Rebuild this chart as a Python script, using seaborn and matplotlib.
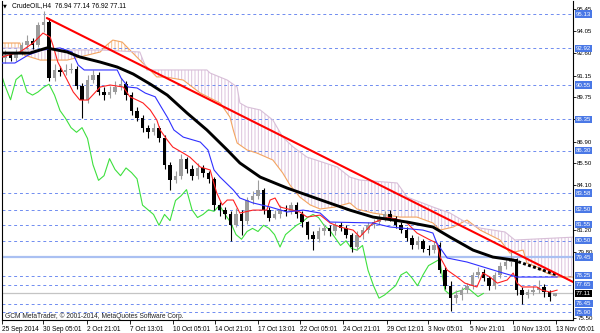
import numpy as np
import pandas as pd
import matplotlib
matplotlib.use("Agg")
import matplotlib.pyplot as plt
import matplotlib.transforms as mtransforms
import seaborn as sns

# ---------------- data (H4 candles, aggregated) ----------------
opens = [92.3, 92.5, 92.3, 92.7, 93.1, 93.4, 93.1, 94.4, 94.6, 91.0,
         91.5, 91.4, 91.5, 91.6, 90.5, 89.6, 90.9, 91.2, 90.1, 89.9,
         90.1, 90.4, 90.6, 89.9, 88.9, 88.4, 87.8, 87.5, 87.8, 87.1,
         85.4, 84.4, 84.7, 85.8, 85.1, 84.7, 85.2, 84.9, 84.5, 82.8,
         82.5, 82.2, 81.5, 82.2, 81.8, 83.1, 83.4, 83.8, 82.5, 82.0,
         82.2, 82.5, 82.4, 82.8, 82.2, 81.7, 80.9, 80.6, 81.1, 81.3,
         81.1, 81.5, 81.3, 80.9, 80.1, 80.9, 81.2, 81.5, 81.7, 82.0,
         82.2, 82.0, 81.5, 81.2, 80.7, 80.2, 80.5, 80.0, 79.9, 80.2,
         78.6, 77.6, 76.8, 77.0, 77.3, 77.6, 78.3, 78.5, 78.1, 77.6,
         78.3, 78.9, 79.1, 79.3, 77.3, 77.0, 77.2, 77.3, 77.5, 77.2,
         76.94]
highs = [92.8, 92.7, 92.9, 93.3, 93.8, 93.6, 94.6, 95.35, 94.9, 91.9,
         91.8, 91.9, 92.0, 91.8, 90.7, 91.2, 91.5, 91.4, 90.4, 90.5,
         90.8, 91.0, 90.8, 90.1, 89.1, 88.6, 88.0, 88.1, 87.9, 87.3,
         85.6, 85.0, 86.1, 85.9, 85.4, 85.5, 85.4, 85.0, 84.6, 83.0,
         82.7, 82.4, 82.6, 82.5, 83.3, 83.7, 84.4, 83.9, 82.7, 82.5,
         82.8, 82.8, 83.0, 83.0, 82.4, 81.8, 81.1, 81.4, 81.6, 81.5,
         81.7, 81.7, 81.5, 81.0, 81.1, 81.4, 81.7, 81.9, 82.2, 82.4,
         82.5, 82.1, 81.7, 81.4, 80.9, 80.8, 80.6, 80.2, 80.5, 80.4,
         78.8, 77.9, 77.3, 77.5, 77.8, 78.5, 78.8, 78.7, 78.2, 78.5,
         79.1, 79.3, 79.8, 79.4, 77.5, 77.4, 77.6, 78.0, 77.7, 77.3,
         77.14]
lows = [92.0, 92.1, 92.1, 92.5, 92.9, 92.9, 93.0, 94.0, 90.8, 90.8,
        91.1, 91.2, 91.3, 90.3, 88.4, 89.4, 90.7, 89.9, 89.6, 89.7,
        90.0, 90.2, 89.6, 88.6, 88.2, 87.5, 87.1, 87.3, 86.9, 85.1,
        83.8, 84.2, 84.5, 84.9, 84.4, 84.5, 84.6, 84.2, 82.5, 82.1,
        81.9, 80.5, 81.4, 80.9, 81.6, 82.9, 83.2, 82.2, 81.8, 81.9,
        82.0, 82.1, 82.2, 82.0, 81.4, 80.6, 79.9, 80.4, 80.9, 80.8,
        80.9, 81.1, 80.7, 79.8, 79.9, 80.6, 81.0, 81.3, 81.5, 81.8,
        81.8, 81.3, 81.0, 80.5, 80.0, 80.0, 79.8, 79.6, 79.7, 78.4,
        77.4, 75.95, 76.5, 76.7, 77.1, 77.4, 78.1, 77.9, 77.3, 77.4,
        78.1, 78.7, 78.9, 77.0, 76.45, 76.8, 77.0, 77.1, 76.9, 76.6,
        76.92]
closes = [92.5, 92.3, 92.7, 93.1, 93.4, 93.1, 94.4, 94.6, 91.0, 91.5,
          91.4, 91.5, 91.6, 90.5, 89.6, 90.9, 91.2, 90.1, 89.9, 90.1,
          90.4, 90.6, 89.9, 88.9, 88.4, 87.8, 87.5, 87.8, 87.1, 85.4,
          84.4, 84.7, 85.8, 85.1, 84.7, 85.2, 84.9, 84.5, 82.8, 82.5,
          82.2, 81.5, 82.2, 81.8, 83.1, 83.4, 83.8, 82.5, 82.0, 82.2,
          82.5, 82.4, 82.8, 82.2, 81.7, 80.9, 80.6, 81.1, 81.3, 81.1,
          81.5, 81.3, 80.9, 80.1, 80.9, 81.2, 81.5, 81.7, 82.0, 82.2,
          82.0, 81.5, 81.2, 80.7, 80.2, 80.5, 80.0, 79.9, 80.2, 78.6,
          77.6, 76.8, 77.0, 77.3, 77.6, 78.3, 78.5, 78.1, 77.6, 78.3,
          78.9, 79.1, 79.3, 77.3, 77.0, 77.2, 77.3, 77.5, 77.2, 76.9,
          77.11]

# moving average (black)
ma_idx = [-0.5, 4.5, 7.6, 11.3, 13.6, 17.3, 20.4, 23.3, 26.4, 29.5, 33.1, 36.7,
          40.4, 42.7, 46.4, 51.3, 54.9, 58.5, 62.7, 66.9, 73.1, 77.8, 80.9, 85.1,
          88.7, 92.4]
ma_val = [92.61, 92.61, 92.94, 92.68, 92.36, 92.03, 91.71, 91.26, 90.61, 89.90,
          88.74, 87.65, 86.36, 85.52, 84.61, 83.90, 83.45, 83.00, 82.48, 82.03,
          81.71, 81.39, 80.74, 79.90, 79.45, 79.26]
ma_tail_idx = [92.4, 100.4]
ma_tail_val = [79.26, 78.29]

# Ichimoku: Kijun-sen (blue)
kijun_idx = [-0.55, 1.8, 4.2, 6.7, 10.0, 12.2, 13.3, 14.4, 20.4, 21.1, 22.4, 24.0,
             25.5, 27.3, 28.4, 29.6, 30.7, 32.4, 35.5, 36.9, 38.0, 39.1, 41.5, 42.7,
             45.1, 48.2, 51.3, 54.2, 57.3, 59.1, 66.9, 70.0, 76.0, 77.8, 78.5, 80.4,
             84.0, 86.4, 90.0, 93.1, 100.4]
kijun_val = [91.97, 91.97, 92.48, 92.81, 92.94, 92.68, 91.84, 91.52, 91.52, 91.00,
             90.42, 90.36, 90.03, 89.79, 89.13, 88.42, 87.65, 87.19, 86.87, 86.36,
             85.07, 84.61, 83.78, 83.26, 82.94, 82.68, 82.36, 82.48, 82.29, 81.71,
             81.65, 81.39, 81.19, 81.00, 80.36, 79.39, 79.13, 78.87, 78.48, 78.16,
             78.16]
# Ichimoku: Tenkan-sen (red)
tenkan_idx = [-0.55, 2.7, 5.1, 6.9, 8.2, 8.7, 9.6, 11.3, 12.4, 13.6, 15.1, 17.3,
              19.1, 21.5, 22.7, 24.0, 25.1, 26.4, 27.6, 28.2, 29.5, 30.5, 32.4,
              33.6, 35.5, 37.3, 37.8, 38.5, 39.5, 40.4, 41.5, 42.7, 45.1, 47.6,
              48.2, 49.1, 50.0, 53.6, 54.9, 57.3, 59.1, 60.9, 63.3, 64.5, 66.9,
              69.5, 71.8, 73.1, 74.9, 77.3, 78.5, 79.1, 80.4, 82.2, 83.6, 85.8,
              86.9, 88.2, 89.5, 91.3, 92.4, 93.1, 94.0, 96.7, 97.6, 99.1, 100.4]
tenkan_val = [92.36, 92.68, 93.26, 93.90, 93.65, 93.13, 92.03, 90.87, 90.10, 89.58,
              89.58, 90.42, 90.55, 90.42, 89.79, 89.58, 89.39, 88.94, 88.29, 87.65,
              87.00, 86.55, 86.16, 85.90, 85.26, 85.07, 84.42, 83.58, 82.81, 83.13,
              83.13, 82.29, 82.48, 82.48, 83.13, 83.26, 82.68, 82.36, 82.03, 82.16,
              81.65, 81.39, 81.19, 80.74, 81.65, 82.03, 81.84, 81.65, 81.00, 80.55,
              80.36, 79.45, 78.61, 78.16, 77.77, 77.52, 78.42, 78.16, 77.77, 77.97,
              78.42, 77.77, 77.52, 77.52, 77.32, 77.19, 77.32]
# Senkou span A (sandy brown) and B (thistle)
span_a_idx = [-0.55, 2.7, 3.5, 6.4, 11.3, 13.6, 17.3, 18.5, 19.6, 21.3, 22.7, 24.5,
              25.8, 27.6, 29.1, 32.4, 33.1, 35.5, 39.1, 40.9, 41.5, 42.2, 44.0,
              45.8, 48.7, 50.5, 51.8, 53.6, 55.5, 57.3, 60.0, 62.7, 64.0, 66.9,
              71.8, 74.9, 77.8, 79.1, 81.5, 84.0, 86.4, 90.0, 91.8, 94.2, 94.9,
              96.7, 98.5, 100.4, 103.6]
span_a_val = [93.26, 93.26, 92.48, 92.16, 92.16, 92.36, 92.68, 93.13, 93.45, 93.32,
              92.81, 92.16, 91.71, 91.07, 91.07, 90.87, 90.68, 90.03, 89.39, 88.48,
              87.65, 86.81, 86.36, 86.16, 85.71, 84.87, 84.10, 83.32, 82.81, 82.55,
              82.68, 82.94, 82.55, 82.29, 82.03, 82.03, 81.65, 81.19, 81.39, 81.84,
              81.19, 80.55, 79.71, 79.90, 79.06, 78.81, 78.42, 78.16, 78.16]
span_b_idx = [-0.55, 2.7, 3.5, 17.3, 24.5, 25.8, 36.7, 37.3, 40.4, 42.2, 42.7, 44.0,
              46.4, 48.7, 50.5, 52.4, 54.9, 60.4, 62.7, 64.5, 71.3, 73.1, 77.8,
              80.9, 84.0, 86.4, 90.9, 92.7, 103.6]
span_b_val = [92.94, 92.94, 92.81, 92.81, 92.68, 91.52, 91.52, 91.32, 90.87, 90.42,
              89.39, 89.13, 88.94, 88.29, 87.19, 86.55, 85.90, 85.26, 84.61, 84.42,
              84.23, 83.32, 82.68, 82.29, 81.65, 81.32, 81.07, 80.55, 80.74]
CHIKOU_SHIFT = 13  # 26 H4 bars back

# manual trendline
trend_idx = [7.6, 103.3]
trend_val = [94.87, 77.84]

# horizontal levels
dashed_levels = [95.13, 92.92, 90.55, 88.35, 86.30, 83.58, 82.50, 81.55, 80.50,
                 78.25, 77.65, 76.45, 75.90]
solid_level = 79.45
current_price = 77.11
ytick_vals = [95.45, 94.05, 92.60, 91.15, 89.75, 88.35, 86.90, 85.50, 84.10,
              81.20, 79.80, 75.50]

xtick_idx = [-0.55, 6.9, 14.9, 22.7, 30.5, 38.2, 46.0, 53.6, 61.5, 69.5, 76.9,
             84.5, 92.4, 100.2]
xtick_labels = ["25 Sep 2014", "30 Sep 05:01", "2 Oct 21:01", "7 Oct 13:01",
                "10 Oct 05:01", "14 Oct 21:01", "17 Oct 13:01", "22 Oct 05:01",
                "24 Oct 21:01", "29 Oct 12:01", "3 Nov 05:01", "5 Nov 21:01",
                "10 Nov 13:01", "13 Nov 05:01"]

# ---------------- styling ----------------
sns.set_theme(style="white")
plt.rcParams['font.family'] = ['Liberation Sans', 'DejaVu Sans']
plt.rcParams['hatch.linewidth'] = 0.7

fig = plt.figure(figsize=(6, 3.33), dpi=100)
ax = fig.add_axes([2/600, 13/333, 571/600, 319/333])
ax.set_facecolor('white')
XMIN, XMAX = -0.545, 103.27
YMIN, YMAX = 75.39, 95.97

bars = pd.DataFrame(dict(open=opens, high=highs, low=lows, close=closes))
bars['idx'] = np.arange(len(bars))

# cloud hatch
grid = np.linspace(XMIN, XMAX, 800)
a = np.interp(grid, span_a_idx, span_a_val)
b = np.interp(grid, span_b_idx, span_b_val)
ax.fill_between(grid, a, b, where=b >= a, interpolate=True, facecolor='none',
                edgecolor='#dcc3dc', hatch='|||||', linewidth=0, zorder=1)
ax.fill_between(grid, a, b, where=a > b, interpolate=True, facecolor='none',
                edgecolor='#f6c090', hatch='|||||', linewidth=0, zorder=1)

# levels
for lv in dashed_levels:
    ax.axhline(lv, color='#6f8cf0', lw=0.7, ls=(0, (3, 3)), zorder=1.5)
ax.axhline(solid_level, color='#aac0f2', lw=1.6, zorder=1.5)
ax.axhline(current_price, color='#c4c4c4', lw=0.9, zorder=1.5)

# Ichimoku span lines and chikou
sns.lineplot(x=span_a_idx, y=span_a_val, ax=ax, color='#f4a460', lw=0.8,
             sort=False, estimator=None, zorder=2)
sns.lineplot(x=span_b_idx, y=span_b_val, ax=ax, color='#d8bfd8', lw=0.8,
             sort=False, estimator=None, zorder=2)
sns.lineplot(x=bars['idx'] - CHIKOU_SHIFT, y=bars['close'], ax=ax, color='#3ee03e',
             lw=0.8, sort=False, estimator=None, zorder=2)

# candles
up = bars['close'] >= bars['open']
cols = np.where(up, '#9c9c9c', '#000000')
ax.vlines(bars['idx'], bars['low'], bars['high'], colors=cols, lw=0.8, zorder=3)
body_lo = np.minimum(bars['open'], bars['close'])
body_h = np.maximum(np.abs(bars['close'] - bars['open']), 0.04)
ax.bar(bars['idx'], body_h, bottom=body_lo, width=0.6, color=cols, linewidth=0, zorder=3)

# Tenkan / Kijun
sns.lineplot(x=tenkan_idx, y=tenkan_val, ax=ax, color='#ff2020', lw=0.8,
             sort=False, estimator=None, zorder=4)
sns.lineplot(x=kijun_idx, y=kijun_val, ax=ax, color='#3030ff', lw=0.8,
             sort=False, estimator=None, zorder=4)

# moving average
sns.lineplot(x=ma_idx, y=ma_val, ax=ax, color='black', lw=2.1,
             sort=False, estimator=None, zorder=4.5)
ax.plot(ma_tail_idx, ma_tail_val, color='black', lw=2.1, ls=(0, (1, 0.8)), zorder=4.5)

# trendline
sns.lineplot(x=trend_idx, y=trend_val, ax=ax, color='#ff0000', lw=1.5,
             sort=False, estimator=None, zorder=5)

ax.set_xlim(XMIN, XMAX)
ax.set_ylim(YMIN, YMAX)
ax.grid(False)
for s in ['left', 'right', 'bottom']:
    ax.spines[s].set_visible(True)
    ax.spines[s].set_color('black')
    ax.spines[s].set_linewidth(0.8)
ax.spines['top'].set_visible(False)

ax.yaxis.tick_right()
ax.set_yticks(ytick_vals)
ax.set_yticklabels([f"{v:.2f}" for v in ytick_vals])
ax.tick_params(axis='y', which='both', right=True, left=False, labelright=True,
               labelleft=False, length=2, width=0.6, pad=1, labelsize=4.4,
               colors='black')
ax.set_xticks(xtick_idx)
ax.set_xticklabels(xtick_labels, ha='left')
ax.tick_params(axis='x', length=3, width=0.6, pad=1.5, labelsize=4.7,
               colors='black', bottom=True)
ax.set_xlabel('')
ax.set_ylabel('')
if ax.get_legend():
    ax.get_legend().remove()

# boxed price labels
trans = mtransforms.blended_transform_factory(ax.transAxes, ax.transData)
box_x = 1.0 + 3/571
for lv in dashed_levels + [solid_level]:
    ax.text(box_x, lv, f"{lv:.2f}", transform=trans, ha='left', va='center',
            fontsize=4.4, color='white', clip_on=False, zorder=10,
            bbox=dict(boxstyle='square,pad=0.18', fc='#4a78e6', ec='none'))
ax.text(box_x, current_price, f"{current_price:.2f}", transform=trans, ha='left',
        va='center', fontsize=4.4, color='white', clip_on=False, zorder=10,
        bbox=dict(boxstyle='square,pad=0.18', fc='black', ec='none'))

# header and footer
fig.text(3/600, 1 - 6/333, '\u25bc', fontsize=3.6, family='DejaVu Sans',
         va='center', ha='left', color='black')
fig.text(12/600, 1 - 6/333, 'CrudeOIL,H4  76.94 77.14 76.92 77.11', fontsize=4.8,
         va='center', ha='left', color='black')
fig.text(5/600, 1 - 316/333,
         'GCM MetaTrader, \u00a9 2001-2014, MetaQuotes Software Corp.',
         fontsize=4.8, va='center', ha='left', color='#222222')

fig.savefig('out.png', dpi=100)
